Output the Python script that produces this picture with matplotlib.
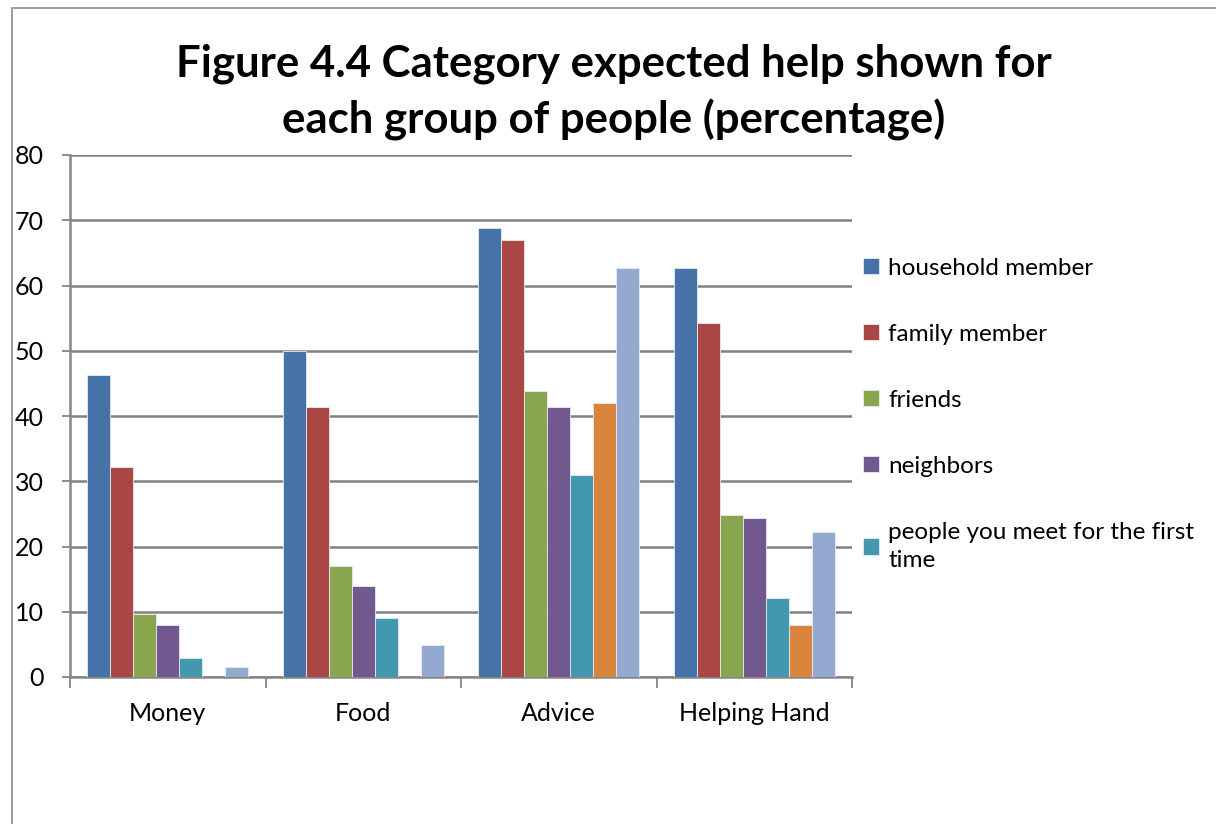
import numpy as np
import matplotlib.pyplot as plt
from matplotlib.patches import Rectangle

# Anteile in Prozent je Hilfeart
categories = ["Money", "Food", "Advice", "Helping Hand"]
household = [46.3, 49.9, 68.8, 62.7]
family = [32.2, 41.4, 67.0, 54.2]
friends = [9.7, 17.0, 43.8, 24.9]
neighbors = [7.9, 14.0, 41.4, 24.4]
first_time = [2.9, 9.1, 31.0, 12.1]
series6 = [0.0, 0.0, 42.0, 7.9]
series7 = [1.6, 4.9, 62.7, 22.2]

labels = ["household member", "family member", "friends", "neighbors",
          "people you meet for the first\ntime"]
colors = ["#4572A7", "#AA4643", "#89A54E", "#71588F", "#4198AF", "#DB843D", "#93A9CF"]

series = [household, family, friends, neighbors, first_time, series6, series7]

plt.rcParams['font.family'] = ['Lato', 'DejaVu Sans']

fig = plt.figure(figsize=(12.16, 8.24), dpi=100)
ax = fig.add_axes([70/1216, 1-677/824, (852-70)/1216, (677-155)/824])

# Rahmen um das Diagramm
fig.patches.append(Rectangle((12/1216, -0.1), 1.2, 1 - 8/824 + 0.1, transform=fig.transFigure,
                             fill=False, edgecolor="#8c8c8c", linewidth=1.2))

n = len(series)
w = 1 / (n + 1.5)   # Lückenbreite 150 %
x = np.arange(len(categories))
handles = []
for i, (vals, c) in enumerate(zip(series, colors)):
    pos = x - (n * w) / 2 + w * (i + 0.5)
    b = ax.bar(pos, vals, width=w, color=c, edgecolor="#e6ecf3", linewidth=0.6, zorder=3)
    handles.append(b)

ax.set_xlim(-0.5, len(categories) - 0.5)
ax.set_ylim(0, 80)
ax.set_yticks(np.arange(0, 81, 10))
ax.yaxis.grid(True, color="#808080", linewidth=1.8, zorder=0)

# Trennstriche zwischen den Kategorien, Beschriftung in der Mitte
ax.set_xticks(np.arange(-0.5, len(categories), 1))
ax.set_xticklabels([])
ax.set_xticks(x, minor=True)
ax.set_xticklabels(categories, minor=True, fontsize=18)
ax.tick_params(axis="x", which="minor", length=0, pad=18)
ax.tick_params(axis="x", which="major", length=8, width=1.3, color="#868686")
ax.tick_params(axis="y", length=6, width=1.3, color="#868686", labelsize=18, pad=13)

for s in ["top", "right"]:
    ax.spines[s].set_visible(False)
for s in ["left", "bottom"]:
    ax.spines[s].set_color("#868686")
    ax.spines[s].set_linewidth(1.8)

fig.text(614/1216, 1 - 92/824,
         "Figure 4.4 Category expected help shown for\neach group of people (percentage)",
         ha="center", va="center", fontsize=31.5, fontweight="bold", linespacing=1.42)

leg = fig.legend(handles[:5], labels, loc="upper left", bbox_to_anchor=(841/1216, 1 - 236/824),
                 frameon=False, fontsize=17.5, handlelength=0.65, handleheight=0.65,
                 handletextpad=0.4, labelspacing=1.85)
for t in leg.get_texts():
    t.set_linespacing(1.45)

fig.savefig("out.png", dpi=100)
